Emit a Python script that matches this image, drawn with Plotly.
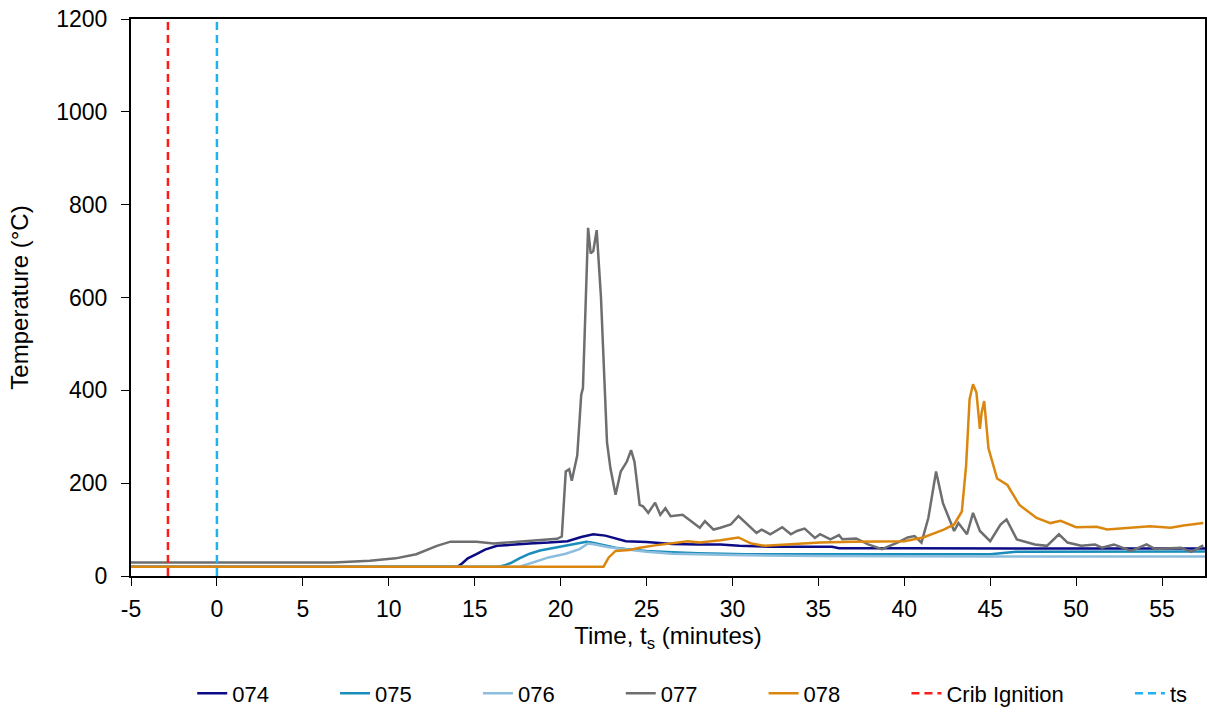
import plotly.graph_objects as go

# 074
t_074 = [-5, 14.0, 14.3, 14.6, 15.1, 15.6, 16.3, 17.2, 18.2, 19.3, 20.4, 21.2, 21.9, 22.6,
         23.3, 23.8, 25.0, 26.5, 28.0, 29.3, 30.4, 32.2, 35.8, 36.2, 40.0, 45.0, 50.0, 57.5]
v_074 = [20, 20, 28, 38, 47, 57, 65, 68, 70, 72, 75, 84, 90, 87,
         80, 75, 73, 69, 68, 68, 65, 63, 63, 60, 60, 59, 59, 59]

# 075
t_075 = [-5, 16.4, 16.8, 17.1, 17.6, 18.2, 18.8, 19.5, 20.3, 21.0, 21.5, 21.8, 22.5,
         23.2, 23.8, 25.0, 26.5, 28.0, 30.8, 33.0, 36.0, 40.0, 45.0, 46.5, 50.0, 57.5]
v_075 = [20, 20, 24, 28, 38, 48, 55, 60, 65, 70, 74, 72, 66,
         61, 58, 54, 51, 49, 47, 47, 47, 47, 47, 52, 52, 53]

# 076
t_076 = [-5, 17.6, 18.3, 19.3, 20.3, 21.1, 21.6, 22.0, 22.8, 23.8, 25.0, 26.5,
         30.0, 35.0, 40.0, 45.0, 50.0, 57.5]
v_076 = [20, 20, 28, 40, 48, 58, 70, 68, 62, 58, 52, 48,
         45, 43, 42, 42, 42, 42]

# 077
t_077 = [-5, 6.8, 8.9, 10.4, 11.6, 12.8, 13.6, 15.1, 16.1, 18.2, 19.8, 20.07,
         20.3, 20.5, 20.65, 20.97, 21.2, 21.3, 21.45, 21.6, 21.75, 21.9, 22.1, 22.35,
         22.7, 22.9, 23.2, 23.5, 23.85, 24.1, 24.3, 24.6, 24.8, 25.1, 25.5, 25.8,
         26.1, 26.4, 27.1, 28.1, 28.4, 28.9, 29.3, 29.9, 30.35, 30.8, 31.4, 31.7,
         32.2, 32.9, 33.4, 33.75, 34.2, 34.8, 35.1, 35.7, 36.2, 36.4, 37.2, 37.9,
         38.7, 39.6, 40.2, 40.6, 41.0, 41.4, 41.85, 42.25, 42.9, 43.15, 43.65, 44.0,
         44.4, 45.0, 45.6, 45.95, 46.55, 47.6, 48.3, 49.0, 49.5, 50.3, 51.1, 51.5,
         52.2, 53.2, 54.1, 54.6, 56.1, 56.7, 57.4]
v_077 = [29, 29, 33, 38, 47, 65, 74, 74, 70, 75, 80, 85,
         225, 230, 205, 260, 390, 405, 600, 750, 695, 700, 745, 600,
         288, 232, 175, 225, 246, 271, 246, 153, 150, 136, 158, 132,
         146, 129, 132, 104, 118, 100, 104, 111, 129, 114, 93, 100,
         90, 105, 90, 97, 102, 82, 90, 79, 88, 79, 81, 68,
         58, 72, 83, 86, 72, 125, 225, 157, 97, 114, 90, 136,
         97, 75, 111, 122, 79, 68, 65, 90, 72, 65, 68, 61,
         68, 54, 68, 58, 61, 52, 66]

# 078
t_078 = [-5, 22.5, 22.8, 23.2, 24.0, 24.6, 25.5, 26.5, 27.4, 28.1, 29.3, 30.35,
         31.1, 31.9, 33.1, 35.1, 37.0, 40.0, 41.1, 42.3, 42.9, 43.35, 43.6, 43.8,
         44.0, 44.2, 44.4, 44.5, 44.65, 44.9, 45.4, 46.0, 46.7, 47.7, 48.5, 49.1,
         50.0, 51.2, 51.8, 53.5, 54.3, 55.5, 56.25, 57.4]
v_078 = [20, 20, 40, 54, 56, 61, 66, 70, 75, 72, 77, 83,
         70, 65, 68, 72, 74, 75, 83, 100, 111, 139, 239, 381,
         413, 395, 317, 352, 377, 275, 210, 196, 153, 125, 114, 119,
         105, 106, 100, 104, 107, 104, 109, 114]

crib_ignition = -2.85
ts = 0
y_span = [0, 1200]

x_ticks = [-5, 0, 5, 10, 15, 20, 25, 30, 35, 40, 45, 50, 55]
x_labels = ["-5", "0", "5", "10", "15", "20", "25", "30", "35", "40", "45", "50", "55"]
y_ticks = [0, 200, 400, 600, 800, 1000, 1200]

series = [
    ("074", t_074, v_074, "#0B0B85"),
    ("075", t_075, v_075, "#1A8DBA"),
    ("076", t_076, v_076, "#8DBDDD"),
    ("077", t_077, v_077, "#6D6E70"),
    ("078", t_078, v_078, "#DB870F"),
]

pad = "\u00a0" * 10  # widen legend entries like the original

fig = go.Figure()

for name, t, v, c in series:
    fig.add_trace(go.Scatter(x=t, y=v, name=name + pad, mode="lines",
                             line=dict(color=c, width=2.5)))

fig.add_trace(go.Scatter(x=[crib_ignition, crib_ignition], y=y_span,
                         name="Crib Ignition" + pad, mode="lines",
                         line=dict(color="#FF1A1A", width=2.5, dash="8px,5px")))
fig.add_trace(go.Scatter(x=[ts, ts], y=y_span, name="ts",
                         mode="lines", line=dict(color="#1EB2F0", width=2.5, dash="8px,5px")))

fig.update_layout(
    width=1208, height=717,
    plot_bgcolor="white", paper_bgcolor="white",
    font=dict(family="Liberation Sans, Arial", size=23, color="black"),
    margin=dict(l=131, r=3, t=19, b=135),
    xaxis=dict(
        range=[-5, 57.5], tickvals=x_ticks, ticktext=x_labels,
        showgrid=False, zeroline=False, automargin=False,
        showline=True, linecolor="black", linewidth=2, mirror=True,
        ticks="outside", ticklen=8, tickcolor="black", ticklabelstandoff=3,
        title=dict(text="Time, t<sub>s</sub> (minutes)", standoff=5, font=dict(size=24)),
    ),
    yaxis=dict(
        range=[0, 1200], tickvals=y_ticks,
        showgrid=False, zeroline=False, automargin=False,
        showline=True, linecolor="black", linewidth=2, mirror=True,
        ticks="outside", ticklen=8, tickcolor="black", ticklabelstandoff=9,
        title=dict(text="Temperature (°C)", standoff=21, font=dict(size=24)),
    ),
    legend=dict(orientation="h", x=0.057, xanchor="left", y=-0.211, yanchor="middle",
                font=dict(size=22)),
    showlegend=True,
)

# drop the default 8px page margin so the figure fills the window
fig.write_html("out.html", config={"displayModeBar": False},
               post_script="document.body.style.margin='0';")
